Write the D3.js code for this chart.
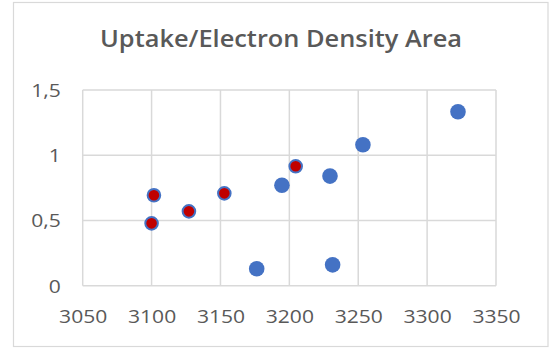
<!DOCTYPE html>
<html>
<head>
<meta charset="utf-8">
<script src="https://cdn.jsdelivr.net/npm/d3@7"></script>
<style>
  html, body { margin: 0; padding: 0; background: #fff; }
  svg { display: block; }
  text { font-family: "Open Sans", "Liberation Sans", sans-serif; fill: #595959; }
</style>
</head>
<body>
<svg id="chart" width="552" height="349"></svg>
<script>
// Uptake vs. electron density area
const blueX = [3176.3, 3194.6, 3229.5, 3231.4, 3253.4, 3322.4];
const blueY = [0.13, 0.77, 0.84, 0.16, 1.08, 1.333];
const redX = [3100, 3101.7, 3127.1, 3152.8, 3204.6];
const redY = [0.478, 0.693, 0.57, 0.708, 0.915];
const xTicks = [3050, 3100, 3150, 3200, 3250, 3300, 3350];
const yTicks = [0, 0.5, 1, 1.5];
const title = "Uptake/Electron Density Area";

const svg = d3.select("#chart");
const W = 552, H = 349;
const plot = { left: 82.7, right: 496, top: 90, bottom: 285.7 };

// chart frame
svg.append("rect")
  .attr("x", 13.5).attr("y", 2.5)
  .attr("width", 534.5).attr("height", 344)
  .attr("fill", "#fff").attr("stroke", "#d9d9d9").attr("stroke-width", 1.2);

const x = d3.scaleLinear().domain([3050, 3350]).range([plot.left, plot.right]);
const y = d3.scaleLinear().domain([0, 1.5]).range([plot.bottom, plot.top]);

const fmt = d => String(d).replace(".", ",");

// gridlines
const grid = svg.append("g").attr("stroke", "#d9d9d9").attr("stroke-width", 1.5);
grid.selectAll("line.v").data(xTicks).join("line")
  .attr("x1", d => x(d)).attr("x2", d => x(d))
  .attr("y1", plot.top).attr("y2", plot.bottom);
grid.selectAll("line.h").data(yTicks).join("line")
  .attr("x1", plot.left).attr("x2", plot.right)
  .attr("y1", d => y(d)).attr("y2", d => y(d));

// axes (labels only)
const xAxis = svg.append("g")
  .attr("transform", `translate(0,${plot.bottom})`)
  .call(d3.axisBottom(x).tickValues(xTicks).tickSize(0).tickPadding(0).tickFormat(fmt));
xAxis.select(".domain").remove();
xAxis.selectAll("text")
  .attr("y", 37.5).attr("dy", null)
  .style("font-size", "18px");

const yAxis = svg.append("g")
  .attr("transform", `translate(${plot.left},0)`)
  .call(d3.axisLeft(y).tickValues(yTicks).tickSize(0).tickPadding(22).tickFormat(fmt));
yAxis.select(".domain").remove();
yAxis.selectAll("text").style("font-size", "18px").attr("dy", "0.36em");

// widen tick glyphs slightly
svg.selectAll(".tick text").each(function () {
  const w = this.getComputedTextLength();
  d3.select(this).attr("textLength", w * 1.17).attr("lengthAdjust", "spacingAndGlyphs");
});

// title
svg.append("text")
  .attr("x", 281).attr("y", 46.5)
  .attr("text-anchor", "middle")
  .attr("textLength", 362).attr("lengthAdjust", "spacingAndGlyphs")
  .style("font-size", "24px").style("font-weight", 600)
  .text(title);

// series
const blue = blueX.map((v, i) => ({ x: v, y: blueY[i] }));
const red = redX.map((v, i) => ({ x: v, y: redY[i] }));

svg.append("g").selectAll("circle").data(blue).join("circle")
  .attr("cx", d => x(d.x)).attr("cy", d => y(d.y))
  .attr("r", 7.8).attr("fill", "#4472C4");

svg.append("g").selectAll("circle").data(red).join("circle")
  .attr("cx", d => x(d.x)).attr("cy", d => y(d.y))
  .attr("r", 6.3).attr("fill", "#C00000")
  .attr("stroke", "#4472C4").attr("stroke-width", 2);
</script>
</body>
</html>
